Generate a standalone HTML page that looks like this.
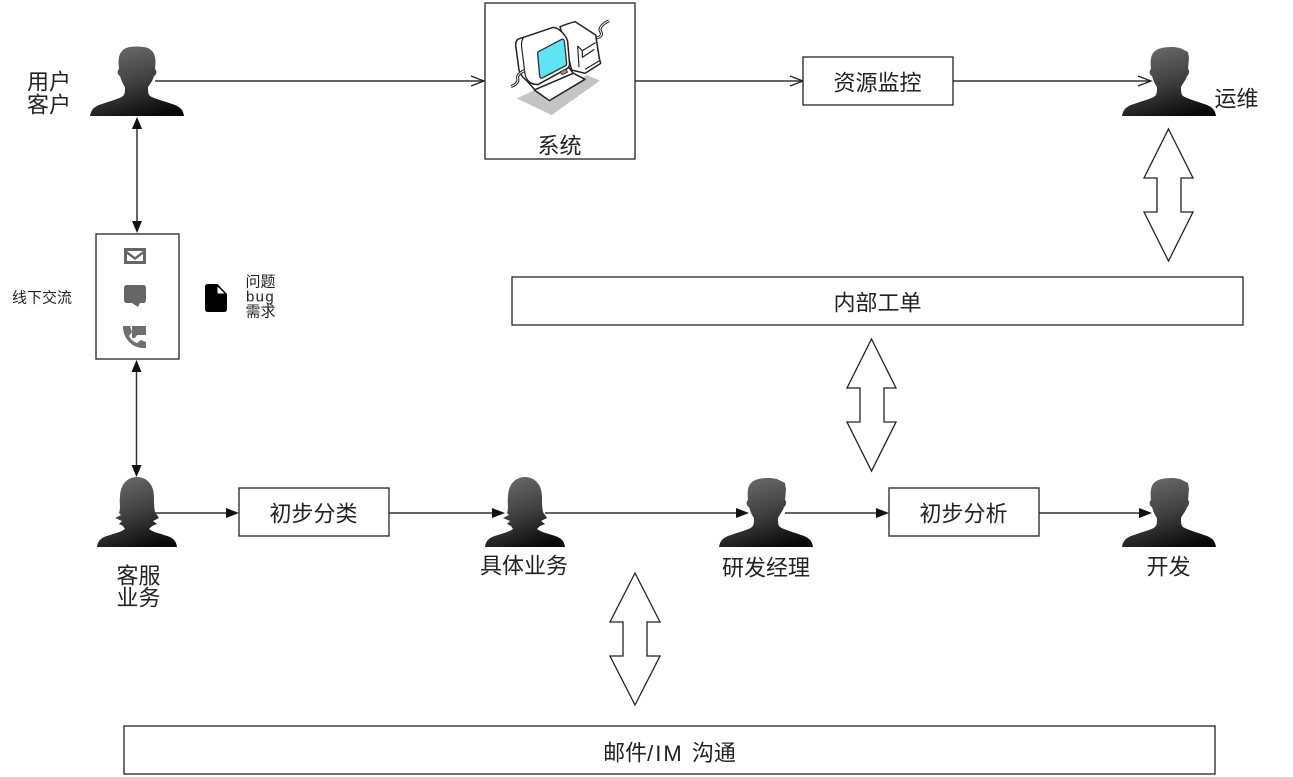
<!DOCTYPE html>
<html><head><meta charset="utf-8">
<style>
html,body{margin:0;padding:0;background:#fff}
svg{display:block}
text{font-family:"Liberation Sans","Noto Sans CJK SC",sans-serif;fill:#222;text-anchor:middle;font-size:22px;dominant-baseline:central}
.s{font-size:15px}
.b{fill:#fff;stroke:#222;stroke-width:1.3}
.l{fill:none;stroke:#333;stroke-width:1.5}
.o{fill:none;stroke:#222;stroke-width:1.3}
.a{fill:#111}
.d{fill:#fff;stroke:#222;stroke-width:1.3}
</style></head>
<body>
<svg width="1293" height="777" viewBox="0 0 1293 777" xmlns="http://www.w3.org/2000/svg">
<defs>
<linearGradient id="g" x1="0.3" y1="0" x2="0.7" y2="1"><stop offset="0" stop-color="#6a6a6a"/><stop offset="0.5" stop-color="#404040"/><stop offset="1" stop-color="#080808"/></linearGradient>
<symbol id="m" viewBox="0 0 94 70" width="94" height="70" overflow="visible">
<path fill="url(#g)" d="M0,70 C1,63 5,60 12,58 C20,55 29,53 33,50 C35,48 35,45 35,41 C32,37 31,33 30,30 C27,29 27,24 29,23 C28,14 28,6 36,2 C42,0 52,0 58,2 C66,6 66,14 65,23 C67,24 67,29 64,30 C63,34 61,37 58,41 C58,45 58,48 60,50 C65,53 74,55 82,58 C89,60 93,63 94,70 Z"/>
</symbol>
<symbol id="h" viewBox="0 0 94 70" width="94" height="70" overflow="visible">
<path fill="url(#g)" d="M0,70 C1,63 5,60 12,58 C20,55 29,53 33,50 C35,48 35,45 35,41 C32,37 31,33 30,30 C27,29 27,24 29,23 C28,14 29,8 33,5 C38,1 46,1 52,1 L58,2 L62,4 L66,6 L67,12 L66,23 C68,24 67,29 65,30 C64,34 61,37 59,41 C59,45 59,48 61,50 C66,53 74,55 82,58 C89,60 93,63 94,70 Z"/>
</symbol>
<symbol id="f" viewBox="0 0 80 70" width="80" height="70" overflow="visible">
<path fill="url(#g)" d="M0,70 C1,62 6,60 13,58 C19,56 24,55 28,52 L26,49 L22,47 L25,44 L18,41 L24,38 L22,36 C24,30 22,25 23,20 C23,8 30,0 40,0 C50,0 57,8 57,20 C57,26 57,30 58,35 L62,41 L56,44 L60,47 L55,49 L52,52 C56,55 61,56 67,58 C74,60 79,62 80,70 Z"/>
</symbol>
</defs>

<rect width="1293" height="777" fill="#fff"/>

<!-- connectors -->
<path class="l" d="M155,81H484M635,81H802M953,81H1151"/>
<path class="o" d="M471,76L484,81L471,86M790,76L803,81L790,86M1138,76L1151,81L1138,86"/>
<path class="l" d="M137,120V230M136.500,362V474M155,513H232M389,513H498M545,513H742M785,513H882M1039,513H1146"/>
<path class="a" d="M137,117L132,129H142ZM137,233L132,221H142ZM136.500,360L131.500,372H141.500ZM136.500,477L131.500,465H141.500ZM239,513L226,508V518ZM505,513L492,508V518ZM749,513L736,508V518ZM889,513L876,508V518ZM1152,513L1139,508V518Z"/>

<!-- people -->
<use href="#m" x="90" y="46"/>
<use href="#h" x="1122" y="46"/>
<use href="#f" x="97" y="477"/>
<use href="#f" x="485" y="477"/>
<use href="#h" x="719" y="477"/>
<use href="#h" x="1122" y="477"/>

<!-- boxes -->
<rect class="b" x="485" y="3" width="150" height="156"/>
<rect class="b" x="803" y="57" width="150" height="48"/>
<rect class="b" x="512" y="277" width="731" height="48"/>
<rect class="b" x="124" y="726" width="1091" height="48"/>
<rect class="b" x="239" y="488" width="150" height="48"/>
<rect class="b" x="889" y="488" width="150" height="48"/>
<rect class="b" x="96" y="234" width="83" height="125"/>

<!-- computer -->
<g transform="translate(505,10) scale(0.3333)" stroke-linejoin="round">
<path fill="#c4c4c4" d="M35,265 L90,240 L130,275 L245,195 L285,212 L140,315 Z"/>
<path fill="none" stroke="#222" stroke-width="9" d="M270,85 C282,82 295,78 287,65 C280,55 292,42 312,32"/>
<path fill="none" stroke="#fff" stroke-width="3" d="M270,85 C282,82 295,78 287,65 C280,55 292,42 312,32"/>
<path fill="#fff" stroke="#222" stroke-width="4.500" d="M165,50 Q190,40 210,35 L272,75 L283,145 L287,160 L240,190 L200,180 L180,100 Z"/>
<path fill="none" stroke="#222" stroke-width="3.500" d="M218,108 L222,172M218,108 L232,122 L272,98M232,122 L232,142 Q250,130 268,118M240,178 L284,152"/>
<path fill="#fff" stroke="#222" stroke-width="4.500" d="M62,208 L90,240 L205,190 L190,170 Z"/>
<path fill="#fff" stroke="#222" stroke-width="4.500" d="M88,240 L205,190 L240,208 L133,272 Z"/>
<path fill="#fff" stroke="#222" stroke-width="4.500" d="M38,88 L145,52 C165,55 185,78 188,95 L194,165 L188,175 L98,224 C72,222 48,203 42,180 L32,105 C32,98 34,92 38,88 Z"/>
<path fill="none" stroke="#222" stroke-width="3.500" d="M58,80 C50,88 48,98 50,112 L60,192 C62,205 72,218 88,224"/>
<path fill="#5fe4f6" stroke="#333" stroke-width="4" d="M100,125 L170,88 Q177,86 178,94 L185,160 Q185,166 180,168 L112,204 Q105,206 104,198 L98,132 Q98,127 100,125 Z"/>
<path fill="#999" stroke="#222" stroke-width="2.500" d="M165,186 L182,178 L188,186 L172,194 Z"/>
<path fill="none" stroke="#222" stroke-width="9" d="M18,230 C30,225 42,218 38,205 C36,195 45,188 58,182"/>
<path fill="none" stroke="#fff" stroke-width="3" d="M18,230 C30,225 42,218 38,205 C36,195 45,188 58,182"/>
</g>

<!-- icons -->
<rect x="124" y="248" width="22" height="16" fill="#666"/>
<path fill="#fff" d="M127,251H143L135,257Z M127,254V261H143V254L135,260Z"/>
<path fill="#666" d="M127,285H143Q146,285 146,288V300Q146,303 143,303H140L138,307L132,303H127Q124,303 124,300V288Q124,285 127,285Z"/>
<path fill="#6e6e6e" d="M123,326H130L132,332L129,336C131,340 134,342 137,343L141,340L146,342V348H143C132,348 123,338 123,327Z"/>
<path fill="#6e6e6e" d="M132,326H146V335H137L135,338H132Z"/>
<path fill="#000" d="M208,284H217.500L227,294V309Q227,312 224,312H208Q205,312 205,309V287Q205,284 208,284Z"/>
<path fill="#fff" d="M217.500,286.500L224.500,293.500H217.500Z"/>

<!-- double arrows -->
<path class="d" d="M1168.500,129L1193,178H1181V212H1193L1168.500,261L1144,212H1157V178H1144Z"/>
<path class="d" d="M871.500,339L896,388H884V422H896L871.500,471L847,422H860V388H847Z"/>
<path class="d" d="M635,573L660,622H647V656H660L635,705L610,656H623V622H610Z"/>

<!-- labels -->
<text x="49" y="82">用户</text>
<text x="49" y="105">客户</text>
<text x="559.500" y="146">系统</text>
<text x="877.500" y="83">资源监控</text>
<text x="1236.500" y="99">运维</text>
<text x="877.500" y="303">内部工单</text>
<text class="s" x="42" y="298">线下交流</text>
<text class="s" x="260.500" y="282">问题</text>
<text class="s" x="260.500" y="297" letter-spacing="1.300">bug</text>
<text class="s" x="260.500" y="312">需求</text>
<text x="313.500" y="514">初步分类</text>
<text x="963.500" y="514">初步分析</text>
<text x="138.500" y="576">客服</text>
<text x="138.500" y="598">业务</text>
<text x="524" y="566">具体业务</text>
<text x="766" y="568">研发经理</text>
<text x="1168.500" y="567">开发</text>
<text x="669.500" y="753">邮件<tspan letter-spacing="2">/IM </tspan>沟通</text>
</svg>
</body></html>
